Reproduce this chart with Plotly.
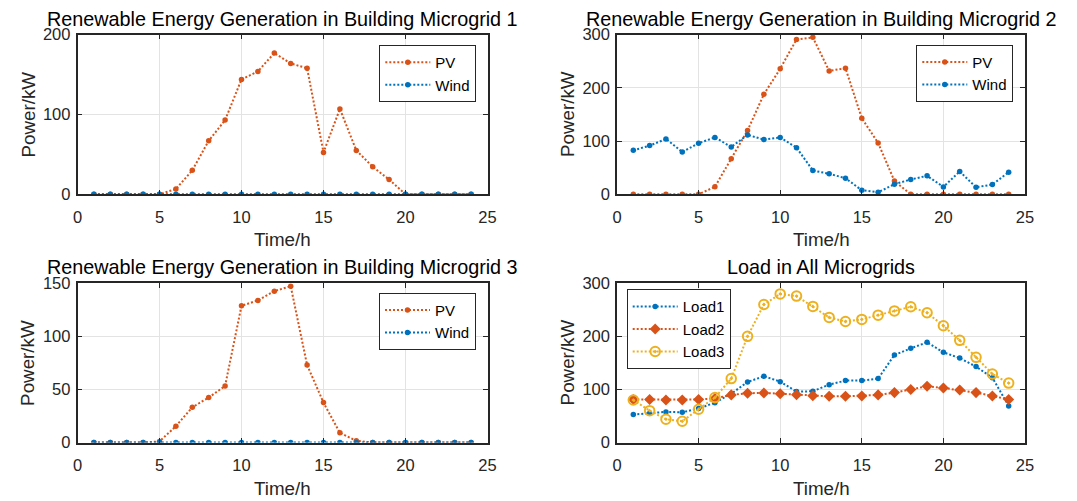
import plotly.graph_objects as go

hours = list(range(1, 25))

pv1 = [0, 0, 0, 0, 0, 6.7, 30, 67, 93, 144, 154, 177, 164, 158, 52.5, 107, 55, 34.5, 18.5, 0, 0, 0, 0, 0]
wind1 = [0] * 24

pv2 = [0, 0, 0, 0, 0, 14, 67, 120, 188, 236, 291, 295, 232, 237, 143, 96.5, 25, 0, 0, 0, 0, 0, 0, 0]
wind2 = [82.6, 91.5, 104, 79.5, 96, 107, 89, 111.7, 102.8, 107, 87.7, 44.8, 38.5, 30.3, 7.6, 3.8,
         19, 27.8, 34.7, 13.9, 42.9, 13.2, 18.3, 41.6]

pv3 = [0, 0, 0, 0, 1, 15.4, 33.2, 42.3, 53.3, 128.8, 133.9, 142.6, 147.3, 73, 37.6, 9.1, 1.6, 0, 0, 0, 0, 0, 0, 0]
wind3 = [0] * 24

load1 = [52.7, 55, 57.7, 57, 64, 75, 92, 114, 124.8, 114.7, 96, 96.5, 109, 116.6, 116.6, 120.4,
         165, 177.4, 188.7, 170, 159, 143, 122, 69]
load2 = [80.9, 81, 80, 80, 81, 83, 89.7, 92.8, 93.4, 92, 90, 88, 87, 87, 87.8, 89.7,
         94, 99.7, 106, 102.8, 99, 94, 87.8, 81]
load3 = [80, 60, 43.9, 40, 62.7, 84.6, 120.4, 200, 260, 280, 275.9, 256.4, 235.7, 228, 232, 240,
         248, 255.8, 244.5, 220, 192.5, 160.5, 129, 112]

titles = ["Renewable Energy Generation in Building Microgrid 1",
          "Renewable Energy Generation in Building Microgrid 2",
          "Renewable Energy Generation in Building Microgrid 3",
          "Load in All Microgrids"]
x_label = "Time/h"
y_label = "Power/kW"
x_ticks = [0, 5, 10, 15, 20, 25]
y_ranges = [[0, 200], [0, 300], [0, 150], [0, 300]]
y_dticks = [100, 100, 50, 100]

W, H = 1077, 501
OFF = 8  # the page body offsets the figure by 8px
BLUE = "#0072BD"
ORANGE = "#D95319"
YELLOW = "#EDB120"
AX = "#262626"
FONT = "Liberation Sans, Arial, sans-serif"


def px(v):
    return (v - OFF) / W


def py(v):
    return 1 - (v - OFF) / H


# screen-pixel boxes of the four axes: (left, right, top, bottom)
boxes = [(77.5, 487.5, 34.7, 194.3), (617, 1025, 34.7, 194.3),
         (77.5, 487.5, 283.3, 442.5), (617, 1025, 283.3, 442.5)]

fig = go.Figure()
DASH = "2px,2px"


def add(x, y, name, color, ax, leg, symbol="circle", size=5.5, open_=False):
    marker = dict(symbol=symbol, size=size, color=color)
    if open_:
        marker["line"] = dict(color=color, width=2)
    else:
        marker["line"] = dict(width=0)
    fig.add_trace(go.Scatter(x=x, y=y, name=name, mode="lines+markers",
                             line=dict(color=color, width=2, dash=DASH),
                             marker=marker, xaxis="x" + ax, yaxis="y" + ax,
                             legend=leg))


add(hours, pv1, "PV", ORANGE, "", "legend")
add(hours, wind1, "Wind", BLUE, "", "legend")
add(hours, pv2, "PV", ORANGE, "2", "legend2")
add(hours, wind2, "Wind", BLUE, "2", "legend2")
add(hours, pv3, "PV", ORANGE, "3", "legend3")
add(hours, wind3, "Wind", BLUE, "3", "legend3")
add(hours, load1, "Load1", BLUE, "4", "legend4")
add(hours, load2, "Load2", ORANGE, "4", "legend4", symbol="diamond", size=8.5)
add(hours, load3, "Load3", YELLOW, "4", "legend4", symbol="circle-open-dot", size=9.5, open_=True)

layout = dict(template="none", width=W, height=H,
              margin=dict(l=0, r=0, t=0, b=0, autoexpand=False),
              paper_bgcolor="white", plot_bgcolor="white",
              font=dict(family=FONT, color=AX, size=16.5))

annotations = []
for i, (l, r, t, b) in enumerate(boxes):
    k = "" if i == 0 else str(i + 1)
    common = dict(showline=True, mirror="ticks", linecolor=AX, linewidth=1.5,
                  ticks="inside", ticklen=5, tickcolor=AX, tickwidth=1,
                  showgrid=True, gridcolor="#e3e3e3", gridwidth=1, zeroline=False,
                  automargin=False,
                  tickfont=dict(size=16.5, color=AX, family=FONT))
    xa = dict(common, domain=[px(l), px(r)], range=[0, 25], tickvals=x_ticks,
              anchor="y" + k, ticklabelstandoff=7)
    ya = dict(common, domain=[py(b), py(t)], range=y_ranges[i], dtick=y_dticks[i],
              anchor="x" + k, ticklabelstandoff=2)
    layout["xaxis" + k] = xa
    layout["yaxis" + k] = ya
    cx = (l + r) / 2
    cy = (t + b) / 2
    annotations.append(dict(text=titles[i], x=px(cx), y=py(t - 16), xref="paper", yref="paper",
                            xanchor="center", yanchor="middle", showarrow=False,
                            font=dict(size=19.8, color="black", family=FONT)))
    annotations.append(dict(text=x_label, x=px(cx), y=py(b + 45.5), xref="paper", yref="paper",
                            xanchor="center", yanchor="middle", showarrow=False,
                            font=dict(size=18.8, color=AX, family=FONT)))
    annotations.append(dict(text=y_label, x=px(l - 49.5), y=py(cy), xref="paper", yref="paper",
                            xanchor="center", yanchor="middle", showarrow=False, textangle=-90,
                            font=dict(size=18.8, color=AX, family=FONT)))
layout["annotations"] = annotations

leg_common = dict(bgcolor="white", bordercolor=AX, borderwidth=1,
                  font=dict(size=15, color="black", family=FONT),
                  itemwidth=45, xanchor="right", yanchor="top", tracegroupgap=0)
layout["legend"] = dict(leg_common, x=px(476.3), y=py(45))
layout["legend2"] = dict(leg_common, x=px(1013.3), y=py(44.7))
layout["legend3"] = dict(leg_common, x=px(476), y=py(292.7))
layout["legend4"] = dict(leg_common, x=px(626.7), y=py(289.3), xanchor="left")
layout["showlegend"] = True

fig.update_layout(**layout)
fig.write_html("out.html")
